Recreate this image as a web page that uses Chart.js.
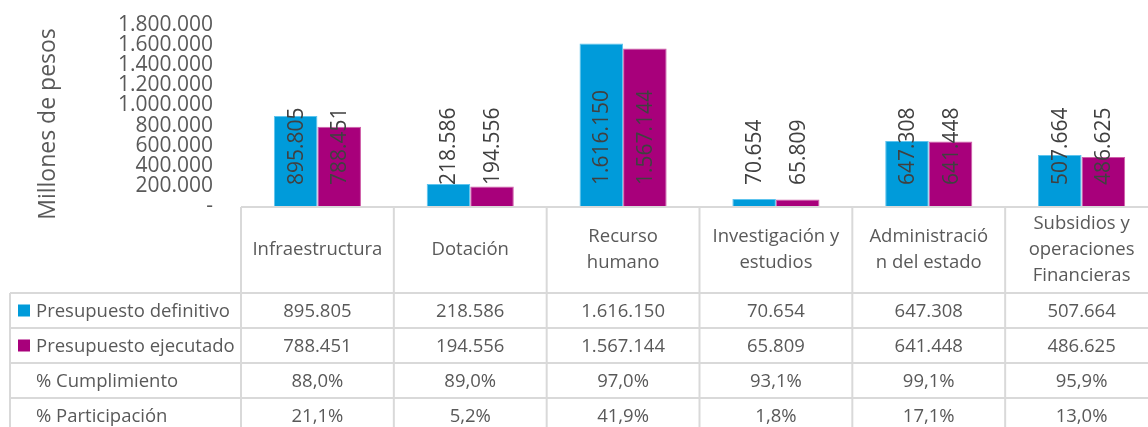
<!DOCTYPE html>
<html><head><meta charset="utf-8">
<script src="https://cdn.jsdelivr.net/npm/chart.js@4.4.1/dist/chart.umd.min.js"></script>
<style>html,body{margin:0;padding:0;overflow:hidden;background:#fff;width:1148px;height:427px}canvas{display:block}</style>
</head><body>
<canvas id="c" width="1162" height="427" style="width:1162px;height:427px"></canvas>
<script>
const categories = [["Infraestructura"],["Dotación"],["Recurso","humano"],["Investigación y","estudios"],["Administració","n del estado"],["Subsidios y","operaciones","Financieras"]];
const seriesNames = ["Presupuesto definitivo","Presupuesto ejecutado"];
const presupuestoDefinitivo = [895805,218586,1616150,70654,647308,507664];
const presupuestoEjecutado = [788451,194556,1567144,65809,641448,486625];
const cumplimiento = [88.0,89.0,97.0,93.1,99.1,95.9];
const participacion = [21.1,5.2,41.9,1.8,17.1,13.0];
const extraRowNames = ["% Cumplimiento","% Participación"];
const yTicks = [0,200000,400000,600000,800000,1000000,1200000,1400000,1600000,1800000];
const yTitle = "Millones de pesos";
const colors = ["#009BDA","#A8007B"];
const borderColors = ["#5EC4EE","#CF5FA9"];

const FONT = '"Open Sans", "DejaVu Sans", sans-serif';
const TEXT = '#595959';
const fmtNum = n => n === 0 ? '-' : String(n).replace(/\B(?=(\d{3})+(?!\d))/g, '.');
const fmtPct = v => v.toFixed(1).replace('.', ',') + '%';

const dataLabels = {
  id: 'dataLabels',
  afterDatasetsDraw(chart) {
    const {ctx, scales: {y}} = chart;
    const baseY = y.getPixelForValue(0) - 21;
    ctx.save();
    ctx.font = '21px ' + FONT;
    ctx.fillStyle = '#404040';
    ctx.textAlign = 'left';
    ctx.textBaseline = 'middle';
    chart.data.datasets.forEach((ds, di) => {
      chart.getDatasetMeta(di).data.forEach((el, i) => {
        ctx.save();
        ctx.translate(el.x, baseY);
        ctx.rotate(-Math.PI / 2);
        ctx.fillText(fmtNum(ds.data[i]), 0, 1);
        ctx.restore();
      });
    });
    ctx.restore();
  }
};

const tableAndTitle = {
  id: 'tableAndTitle',
  afterDraw(chart) {
    const {ctx, chartArea: ca, scales: {x}} = chart;
    const n = categories.length;
    const w = (ca.right - ca.left) / n;
    const top = ca.bottom + 1;
    const headerBottom = top + 86;
    const rowH = 35;
    const rows = [
      {name: seriesNames[0], color: colors[0], vals: presupuestoDefinitivo.map(fmtNum)},
      {name: seriesNames[1], color: colors[1], vals: presupuestoEjecutado.map(fmtNum)},
      {name: extraRowNames[0], color: null, vals: cumplimiento.map(fmtPct)},
      {name: extraRowNames[1], color: null, vals: participacion.map(fmtPct)}
    ];
    const tableLeft = 10;
    const tableBottom = headerBottom + rows.length * rowH;
    const line = (x1, y1, x2, y2) => { ctx.beginPath(); ctx.moveTo(x1, y1); ctx.lineTo(x2, y2); ctx.stroke(); };
    ctx.save();
    ctx.strokeStyle = '#D9D9D9';
    ctx.lineWidth = 2;
    line(ca.left, top, ca.right, top);
    for (let r = 0; r <= rows.length; r++) {
      const yy = headerBottom + r * rowH;
      line(tableLeft, yy, ca.right, yy);
    }
    line(tableLeft, headerBottom, tableLeft, tableBottom);
    for (let i = 0; i <= n; i++) {
      const xx = (i < n ? x.getPixelForValue(i) - w / 2 : x.getPixelForValue(n - 1) + w / 2);
      line(xx, top, xx, tableBottom);
    }
    ctx.fillStyle = TEXT;
    ctx.font = '18.5px ' + FONT;
    ctx.textAlign = 'center';
    ctx.textBaseline = 'middle';
    const hc = (top + headerBottom) / 2;
    categories.forEach((lines, i) => {
      const cx = x.getPixelForValue(i);
      lines.forEach((t, k) => ctx.fillText(t, cx, hc + (k - (lines.length - 1) / 2) * 26));
    });
    rows.forEach((row, r) => {
      const cy = headerBottom + r * rowH + rowH / 2;
      if (row.color) { ctx.fillStyle = row.color; ctx.fillRect(18, cy - 6, 12, 12); }
      ctx.fillStyle = TEXT;
      ctx.textAlign = 'left';
      ctx.fillText(row.name, 36, cy + 1);
      ctx.textAlign = 'center';
      row.vals.forEach((v, i) => ctx.fillText(v, x.getPixelForValue(i), cy + 1));
    });
    // axis title
    ctx.save();
    ctx.font = '23px ' + FONT;
    ctx.translate(48, 124);
    ctx.rotate(-Math.PI / 2);
    ctx.textAlign = 'center';
    ctx.fillText(yTitle, 0, 0);
    ctx.restore();
    ctx.restore();
  }
};

function draw() {
  new Chart(document.getElementById('c'), {
    type: 'bar',
    data: {
      labels: categories,
      datasets: [
        {label: seriesNames[0], data: presupuestoDefinitivo, backgroundColor: colors[0], borderColor: borderColors[0], borderWidth: 1},
        {label: seriesNames[1], data: presupuestoEjecutado, backgroundColor: colors[1], borderColor: borderColors[1], borderWidth: 1}
      ]
    },
    options: {
      responsive: false,
      animation: false,
      layout: {padding: {top: 25, bottom: 221, left: 0, right: 4}},
      datasets: {bar: {categoryPercentage: 0.57, barPercentage: 1}},
      plugins: {legend: {display: false}, tooltip: {enabled: false}},
      scales: {
        x: {display: false},
        y: {
          min: 0, max: 1800000,
          grid: {display: false, drawTicks: true, tickLength: 28},
          border: {display: false},
          afterBuildTicks: s => { s.ticks = yTicks.map(v => ({value: v})); },
          afterFit: s => { s.width = 241; },
          ticks: {padding: 0, autoSkip: false, color: TEXT, font: {family: FONT, size: 21}, callback: v => fmtNum(v)}
        }
      }
    },
    plugins: [dataLabels, tableAndTitle]
  });
}
(document.fonts && document.fonts.load ? Promise.all([document.fonts.load('21px "Open Sans"')]).catch(()=>{}) : Promise.resolve()).then(draw);
</script>
</body></html>
